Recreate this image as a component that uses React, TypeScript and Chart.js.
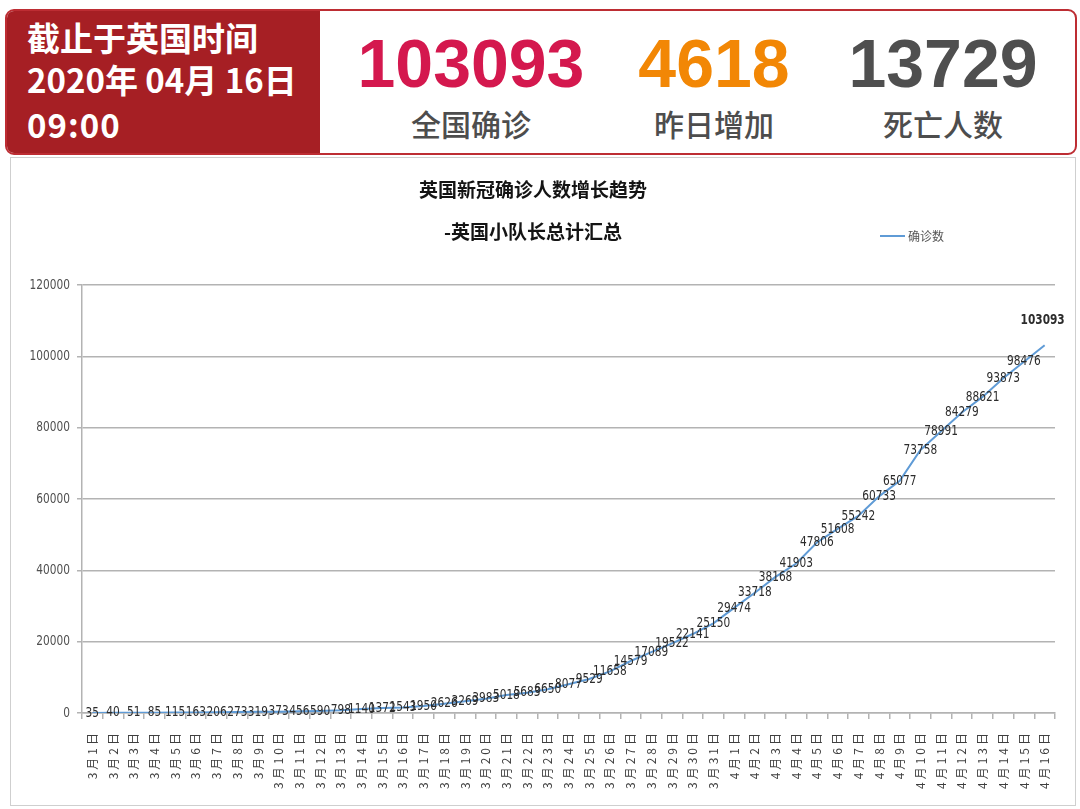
import React, { useEffect, useRef } from "react";
import { Chart, registerables } from "chart.js";

Chart.register(...registerables);

// ---------- data ----------
const dates = [
  "3月1日", "3月2日", "3月3日", "3月4日", "3月5日", "3月6日", "3月7日", "3月8日", "3月9日", "3月10日",
  "3月11日", "3月12日", "3月13日", "3月14日", "3月15日", "3月16日", "3月17日", "3月18日", "3月19日", "3月20日",
  "3月21日", "3月22日", "3月23日", "3月24日", "3月25日", "3月26日", "3月27日", "3月28日", "3月29日", "3月30日",
  "3月31日", "4月1日", "4月2日", "4月3日", "4月4日", "4月5日", "4月6日", "4月7日", "4月8日", "4月9日",
  "4月10日", "4月11日", "4月12日", "4月13日", "4月14日", "4月15日", "4月16日",
];

const confirmed = [
  35, 40, 51, 85, 115, 163, 206, 273, 319, 373,
  456, 590, 798, 1140, 1372, 1543, 1950, 2626, 3269, 3983,
  5018, 5683, 6650, 8077, 9529, 11658, 14579, 17089, 19522, 22141,
  25150, 29474, 33718, 38168, 41903, 47806, 51608, 55242, 60733, 65077,
  73758, 78991, 84279, 88621, 93873, 98476, 103093,
];

const seriesLabel = "确诊数";
const chartTitle = ["英国新冠确诊人数增长趋势", "-英国小队长总计汇总"];
const yMax = 120000;
const yStep = 20000;

const headerLines = ["截止于英国时间", "2020年 04月 16日", "09:00"];
const statValues = ["103093", "4618", "13729"];
const statLabels = ["全国确诊", "昨日增加", "死亡人数"];
const statColors = ["#d4184e", "#f28705", "#4f4f4f"];
const statCenters = [469, 712, 941];

// ---------- styles ----------
const LINE_COLOR = "#5f9bd6";
const GRID_COLOR = "#b3b3b3";
const NARROW = '"DejaVu Sans Condensed", "DejaVu Sans", sans-serif';
const CJK = '"Noto Sans CJK SC", sans-serif';
const SQUEEZE = 0.84;

function drawNarrow(ctx: any, text: string, x: number, y: number) {
  ctx.save();
  ctx.translate(x, y);
  ctx.scale(SQUEEZE, 1);
  ctx.fillText(text, 0, 0);
  ctx.restore();
}

const dataLabelPlugin = {
  id: "dataLabels",
  afterDatasetsDraw(chart: any) {
    const ctx = chart.ctx;
    const meta = chart.getDatasetMeta(0);
    const values = chart.data.datasets[0].data;
    const n = values.length;
    ctx.save();
    ctx.textAlign = "center";
    ctx.textBaseline = "middle";
    ctx.fillStyle = "#2c2c2c";
    meta.data.forEach((pt: any, i: number) => {
      const last = i === n - 1;
      ctx.font = (last ? "bold " : "") + "14px " + NARROW;
      const dy = last ? -25 : 0;
      drawNarrow(ctx, String(values[i]), pt.x - (last ? 2 : 0), pt.y + dy);
    });
    ctx.restore();
  },
};

const axisLabelPlugin = {
  id: "axisLabels",
  afterDraw(chart: any) {
    const ctx = chart.ctx;
    // x labels (rotated, spaced)
    const xs = chart.scales.x;
    const labels = chart.data.labels;
    ctx.save();
    ctx.font = "12px " + CJK;
    (ctx as any).letterSpacing = "3px";
    ctx.fillStyle = "#3f3f3f";
    ctx.textAlign = "right";
    ctx.textBaseline = "middle";
    labels.forEach((lab: string, i: number) => {
      const x = xs.getPixelForValue(i);
      const y = xs.top + 17;
      ctx.save();
      ctx.translate(x, y);
      ctx.rotate(-Math.PI / 2);
      ctx.fillText(lab, 0, 0);
      ctx.restore();
    });
    ctx.restore();
    // y labels
    const ys = chart.scales.y;
    ctx.save();
    ctx.font = "14px " + NARROW;
    ctx.fillStyle = "#505050";
    ctx.textAlign = "right";
    ctx.textBaseline = "middle";
    ys.ticks.forEach((t: any) => {
      const y = ys.getPixelForValue(t.value);
      drawNarrow(ctx, String(t.value), ys.right - 12, y);
    });
    ctx.restore();
  },
};

const legendPlugin = {
  id: "customLegend",
  afterDraw(chart: any) {
    const ctx = chart.ctx;
    const ds = chart.data.datasets[0];
    const x0 = chart.chartArea.right - 175;
    const y0 = 78;
    ctx.save();
    ctx.strokeStyle = ds.borderColor;
    ctx.lineWidth = 2;
    ctx.beginPath();
    ctx.moveTo(x0, y0);
    ctx.lineTo(x0 + 25, y0);
    ctx.stroke();
    ctx.font = "12px " + CJK;
    ctx.fillStyle = "#555";
    ctx.textAlign = "left";
    ctx.textBaseline = "middle";
    ctx.fillText(ds.label, x0 + 28, y0);
    ctx.restore();
  },
};

function TrendChart() {
  const ref = useRef<HTMLCanvasElement | null>(null);
  useEffect(() => {
    if (!ref.current) return;
    const chart = new Chart(ref.current, {
      type: "line",
      data: {
        labels: dates,
        datasets: [
          {
            label: seriesLabel,
            data: confirmed,
            borderColor: LINE_COLOR,
            backgroundColor: LINE_COLOR,
            borderWidth: 2,
            pointRadius: 0,
            tension: 0,
          },
        ],
      },
      options: {
        animation: false,
        responsive: true,
        maintainAspectRatio: false,
        layout: { padding: { left: 0, right: 20, top: 0, bottom: 0 } },
        plugins: {
          legend: { display: false },
          tooltip: { enabled: false },
          title: {
            display: true,
            text: chartTitle,
            color: "#141414",
            font: { family: CJK, size: 19, weight: "bold", lineHeight: 42 / 19 },
            padding: { top: 11, bottom: 32 },
          },
        },
        scales: {
          x: {
            type: "category",
            offset: true,
            grid: {
              offset: true,
              drawOnChartArea: false,
              drawTicks: true,
              tickLength: 6,
              color: GRID_COLOR,
              lineWidth: 1.5,
            },
            border: { display: true, color: GRID_COLOR, width: 1.5 },
            ticks: { display: false, autoSkip: false },
            afterFit: (s: any) => {
              s.height = 92;
            },
          },
          y: {
            min: 0,
            max: yMax,
            ticks: { stepSize: yStep, display: false },
            grid: { color: GRID_COLOR, lineWidth: 1.5, tickLength: 5, drawTicks: true },
            border: { display: true, color: GRID_COLOR, width: 1.5 },
            afterFit: (s: any) => {
              s.width = 71;
            },
          },
        },
      } as any,
      plugins: [dataLabelPlugin, axisLabelPlugin, legendPlugin],
    });
    return () => chart.destroy();
  }, []);
  return <canvas ref={ref} />;
}

export default function App() {
  return (
    <div
      style={{
        position: "absolute",
        left: 0,
        top: 0,
        width: 1080,
        height: 809,
        background: "#fff",
        fontFamily: CJK,
        overflow: "hidden",
      }}
    >
      {/* header */}
      <div
        style={{
          position: "absolute",
          left: 5,
          top: 9,
          width: 1072,
          height: 146,
          boxSizing: "border-box",
          border: "2px solid #bd2d33",
          borderRadius: 9,
          overflow: "hidden",
          background: "#fff",
        }}
      >
        <div
          style={{
            position: "absolute",
            left: 0,
            top: 0,
            width: 313,
            height: "100%",
            background: "#a61f24",
          }}
        />
        {headerLines.map((t, i) => (
          <div
            key={i}
            style={{
              position: "absolute",
              left: 20,
              top: [38, 80, 125][i] - 11 - 17,
              height: 33,
              lineHeight: "33px",
              fontSize: 33,
              fontWeight: 700,
              color: "#fff",
              whiteSpace: "pre",
              letterSpacing: i === 2 ? 1 : 0,
            }}
          >
            {t}
          </div>
        ))}
        {statValues.map((v, i) => (
          <div
            key={"v" + i}
            style={{
              position: "absolute",
              left: statCenters[i] - 5 - 150,
              width: 300,
              textAlign: "center",
              top: 63 - 9 - 2 - 34,
              height: 68,
              lineHeight: "68px",
              fontSize: 68,
              fontWeight: 700,
              fontFamily: '"Liberation Sans", Arial, sans-serif',
              color: statColors[i],
            }}
          >
            {v}
          </div>
        ))}
        {statLabels.map((v, i) => (
          <div
            key={"l" + i}
            style={{
              position: "absolute",
              left: statCenters[i] - 5 - 150,
              width: 300,
              textAlign: "center",
              top: 124 - 9 - 2 - 16,
              height: 30,
              lineHeight: "30px",
              fontSize: 30,
              fontWeight: 500,
              color: "#4d4d4d",
            }}
          >
            {v}
          </div>
        ))}
      </div>
      {/* chart card */}
      <div
        style={{
          position: "absolute",
          left: 10,
          top: 157,
          width: 1066,
          height: 649,
          boxSizing: "border-box",
          border: "1px solid #cfcfcf",
          background: "#fff",
        }}
      >
        <div style={{ position: "relative", width: 1064, height: 647 }}>
          <TrendChart />
        </div>
      </div>
    </div>
  );
}
